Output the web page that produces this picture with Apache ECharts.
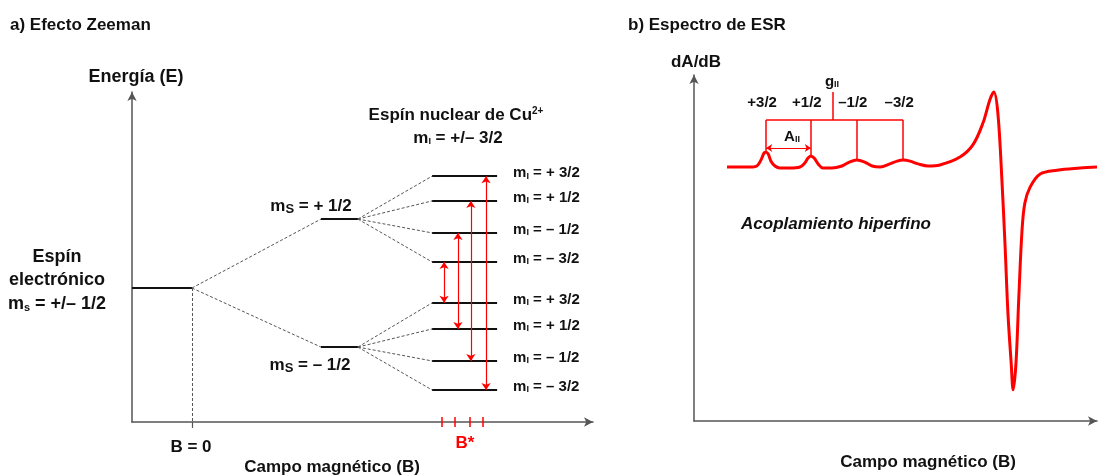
<!DOCTYPE html>
<html>
<head>
<meta charset="utf-8">
<title>Efecto Zeeman / Espectro de ESR</title>
<script src="https://cdn.jsdelivr.net/npm/echarts@6/dist/echarts.min.js"></script>
<style>
  html, body { margin: 0; padding: 0; background: #fff; }
  #chart { width: 1098px; height: 476px; }
</style>
</head>
<body>
<div id="chart"></div>
<script>
// ---- panel a) Zeeman splitting, arbitrary units 0-100 ----
var zeroFieldEnergy = 40.6;
var bZero = 13;
var msField = [41, 49];
var msEnergies = [61.5, 22.7];              // m_S = +1/2, m_S = -1/2
var mIField = [65.1, 79.2];
var mIEnergies = [74.5, 67.0, 57.3, 48.5, 36.1, 28.2, 18.5, 9.7];
var mILabels = ['+ 3/2', '+ 1/2', '– 1/2', '– 3/2', '+ 3/2', '+ 1/2', '– 1/2', '– 3/2'];
var transitionField = [67.7, 70.7, 73.5, 76.8];
var bStarTicks = [67.2, 70.1, 73.3, 76.1];

// ---- panel b) ESR spectrum, arbitrary units 0-100 ----
var espField = [8.2, 11.4, 13.9, 15.6, 16.6, 17.4, 17.9, 18.4, 19.1, 20.1, 21.3, 23.8, 26.3, 27.5, 28.3, 29.0, 29.8, 30.8, 32.0, 34.2,
  36.7, 38.7, 40.4, 42.2, 44.2, 46.2, 48.6, 50.4, 51.9, 53.6, 55.6, 58.1, 61.0, 66.0, 69.2, 71.7, 73.4, 74.4, 75.4, 76.4,
  77.2, 77.9, 78.7, 79.2, 79.9, 80.6, 81.4, 82.1, 83.4, 85.9, 90.1, 95.8, 100];
var espSignal = [73.4, 73.4, 73.4, 73.7, 75.4, 77.5, 77.7, 77.2, 75.1, 73.7, 73.1, 73.1, 73.4, 74.6, 76.0, 76.6, 76.0, 74.3, 73.1, 73.1,
  73.7, 74.9, 75.4, 74.9, 73.7, 73.4, 74.3, 75.1, 75.4, 75.1, 74.3, 73.7, 74.0, 76.3, 79.8, 86.1, 92.8, 95.1, 89.0, 69.7,
  50.3, 31.2, 16.8, 9.0, 16.8, 35.8, 55.2, 63.0, 67.6, 71.4, 72.5, 73.1, 73.4];
var hfPeakField = [17.9, 29.0, 40.4, 51.9];
var hfPeakSignal = [77.7, 76.6, 75.4, 75.4];
var hfLabels = ['+3/2', '+1/2', '–1/2', '–3/2'];
var stickLevel = 87.0;
var gParField = 34.5;
var gParTop = 95.1;
var aParLevel = 78.9;

var FONT = '"Liberation Sans", Arial, sans-serif';
var INK = '#111';
var RED = '#ff0000';

function seg(x1, y1, x2, y2) { return { coords: [[x1, y1], [x2, y2]] }; }

// level bars
var levelSegs = [seg(0, zeroFieldEnergy, bZero, zeroFieldEnergy)];
msEnergies.forEach(function (e) { levelSegs.push(seg(msField[0], e, msField[1], e)); });
mIEnergies.forEach(function (e) { levelSegs.push(seg(mIField[0], e, mIField[1], e)); });

// dashed correlation lines
var dashSegs = [seg(bZero, zeroFieldEnergy, bZero, 0)];
msEnergies.forEach(function (e) { dashSegs.push(seg(bZero, zeroFieldEnergy, msField[0], e)); });
mIEnergies.forEach(function (e, i) {
  var parent = i < 4 ? msEnergies[0] : msEnergies[1];
  dashSegs.push(seg(msField[1], parent, mIField[0], e));
});

// allowed transitions (delta m_I = 0)
var transSegs = transitionField.map(function (x, k) {
  return seg(x, mIEnergies[3 - k], x, mIEnergies[4 + k]);
});
var bStarSegs = bStarTicks.map(function (x) { return seg(x, 1.5, x, -1.5); });

// stick diagram above spectrum
var stickSegs = [seg(hfPeakField[0], stickLevel, hfPeakField[3], stickLevel), seg(gParField, stickLevel, gParField, gParTop)];
hfPeakField.forEach(function (x, i) { stickSegs.push(seg(x, stickLevel, x, hfPeakSignal[i])); });

var espData = espField.map(function (x, i) { return [x, espSignal[i]]; });

var rich = {
  b: { fontFamily: FONT, fontWeight: 'bold', fontSize: 15, color: INK },
  sub: { fontFamily: FONT, fontWeight: 'bold', fontSize: 9, color: INK, verticalAlign: 'bottom', padding: [6, 0, 0, 0] },
  B: { fontFamily: FONT, fontWeight: 'bold', fontSize: 17, color: INK },
  subS: { fontFamily: FONT, fontWeight: 'bold', fontSize: 13, color: INK, verticalAlign: 'bottom', padding: [6, 0, 0, 0] },
  subs: { fontFamily: FONT, fontWeight: 'bold', fontSize: 11, color: INK, verticalAlign: 'bottom', padding: [6, 0, 0, 0] },
  sup: { fontFamily: FONT, fontWeight: 'bold', fontSize: 10, color: INK, verticalAlign: 'top', padding: [0, 0, 6, 0] },
  L: { fontFamily: FONT, fontWeight: 'bold', fontSize: 18, color: INK }
};

function txt(x, y, text, size, extra) {
  var st = { x: x, y: y, text: text, fontFamily: FONT, fontWeight: 'bold', fontSize: size,
    fill: INK, align: 'center', verticalAlign: 'middle', rich: rich };
  for (var k in extra) st[k] = extra[k];
  return { type: 'text', silent: true, style: st };
}

var axisCommon = {
  type: 'value', min: 0, max: 100,
  axisTick: { show: false }, axisLabel: { show: false }, splitLine: { show: false }
};
function axis(idx, extra) {
  var a = { gridIndex: idx };
  for (var k in axisCommon) a[k] = axisCommon[k];
  a.axisLine = { show: true, symbol: ['none', 'arrow'], symbolSize: [7, 9], lineStyle: { color: '#555', width: 1.5 } };
  for (var j in extra) a[j] = extra[j];
  return a;
}

var chart = echarts.init(document.getElementById('chart'), null, { renderer: 'canvas' });
chart.setOption({
  animation: false,
  backgroundColor: '#fff',
  grid: [
    { left: 132, top: 92, width: 461, height: 330 },
    { left: 694, top: 75, width: 403, height: 346 }
  ],
  xAxis: [axis(0), axis(1)],
  yAxis: [axis(0), axis(1)],
  series: [
    { type: 'lines', coordinateSystem: 'cartesian2d', xAxisIndex: 0, yAxisIndex: 0, clip: false, silent: true,
      data: dashSegs, lineStyle: { color: '#555', width: 1, type: [3, 2], opacity: 1 } },
    { type: 'lines', coordinateSystem: 'cartesian2d', xAxisIndex: 0, yAxisIndex: 0, clip: false, silent: true,
      data: levelSegs, lineStyle: { color: INK, width: 2, opacity: 1 } },
    { type: 'lines', coordinateSystem: 'cartesian2d', xAxisIndex: 0, yAxisIndex: 0, clip: false, silent: true,
      data: [seg(bZero, 0, bZero, -1.8)], lineStyle: { color: '#555', width: 1.2, opacity: 1 } },
    { type: 'lines', coordinateSystem: 'cartesian2d', xAxisIndex: 0, yAxisIndex: 0, clip: false, silent: true,
      data: transSegs, symbol: ['arrow', 'arrow'], symbolSize: 7, lineStyle: { color: RED, width: 1.2, opacity: 1 } },
    { type: 'lines', coordinateSystem: 'cartesian2d', xAxisIndex: 0, yAxisIndex: 0, clip: false, silent: true,
      data: bStarSegs, lineStyle: { color: RED, width: 1.5, opacity: 1 } },
    { type: 'scatter', xAxisIndex: 0, yAxisIndex: 0, symbolSize: 0, silent: true, itemStyle: { opacity: 1 },
      data: mIEnergies.map(function (e, i) { return { value: [mIField[1], e], name: mILabels[i] }; }),
      label: { show: true, position: 'right', distance: 16, offset: [0, -3], opacity: 1,
        formatter: function (p) { return '{b|m}{sub|I}{b| = ' + p.name + '}'; }, rich: rich } },
    // panel b
    { type: 'line', xAxisIndex: 1, yAxisIndex: 1, data: espData, smooth: 0.35, showSymbol: false, silent: true,
      lineStyle: { color: RED, width: 3 } },
    { type: 'lines', coordinateSystem: 'cartesian2d', xAxisIndex: 1, yAxisIndex: 1, clip: false, silent: true,
      data: stickSegs, lineStyle: { color: RED, width: 1.5, opacity: 1 } },
    { type: 'lines', coordinateSystem: 'cartesian2d', xAxisIndex: 1, yAxisIndex: 1, clip: false, silent: true,
      data: [seg(hfPeakField[0], aParLevel, hfPeakField[1], aParLevel)], symbol: ['arrow', 'arrow'], symbolSize: 6,
      lineStyle: { color: RED, width: 1.2, opacity: 1 } },
    { type: 'scatter', xAxisIndex: 1, yAxisIndex: 1, symbolSize: 0, silent: true, itemStyle: { opacity: 1 },
      data: hfPeakField.map(function (x, i) { return { value: [x, stickLevel], name: hfLabels[i] }; }),
      label: { show: true, position: 'top', distance: 10, offset: [-4, 0], formatter: '{b}', opacity: 1,
        fontFamily: FONT, fontWeight: 'bold', fontSize: 15, color: INK } }
  ],
  graphic: [
    txt(10, 25, 'a) Efecto Zeeman', 17, { align: 'left' }),
    txt(136, 77, 'Energía (E)', 18),
    txt(57, 257, 'Espín', 18),
    txt(57, 280, 'electrónico', 18),
    txt(57, 304, '{L|m}{subs|s}{L| = +/– 1/2}', 18),
    txt(311, 206, '{B|m}{subS|S}{B| = + 1/2}', 17),
    txt(310, 365, '{B|m}{subS|S}{B| = – 1/2}', 17),
    txt(456, 115, '{B|Espín nuclear de Cu}{sup|2+}', 17),
    txt(458, 138, '{B|m}{sub|I}{B| = +/– 3/2}', 17),
    txt(191, 447, 'B = 0', 17),
    txt(465, 443, 'B*', 17, { fill: RED }),
    txt(332, 467, 'Campo magnético (B)', 17),
    txt(628, 25, 'b) Espectro de ESR', 17, { align: 'left' }),
    txt(696, 62, 'dA/dB', 17),
    txt(832, 82, '{b|g}{sub|II}', 15),
    txt(792, 137, '{b|A}{sub|II}', 15),
    txt(836, 224, 'Acoplamiento hiperfino', 17, { fontStyle: 'italic' }),
    txt(928, 462, 'Campo magnético (B)', 17)
  ]
});
</script>
</body>
</html>
